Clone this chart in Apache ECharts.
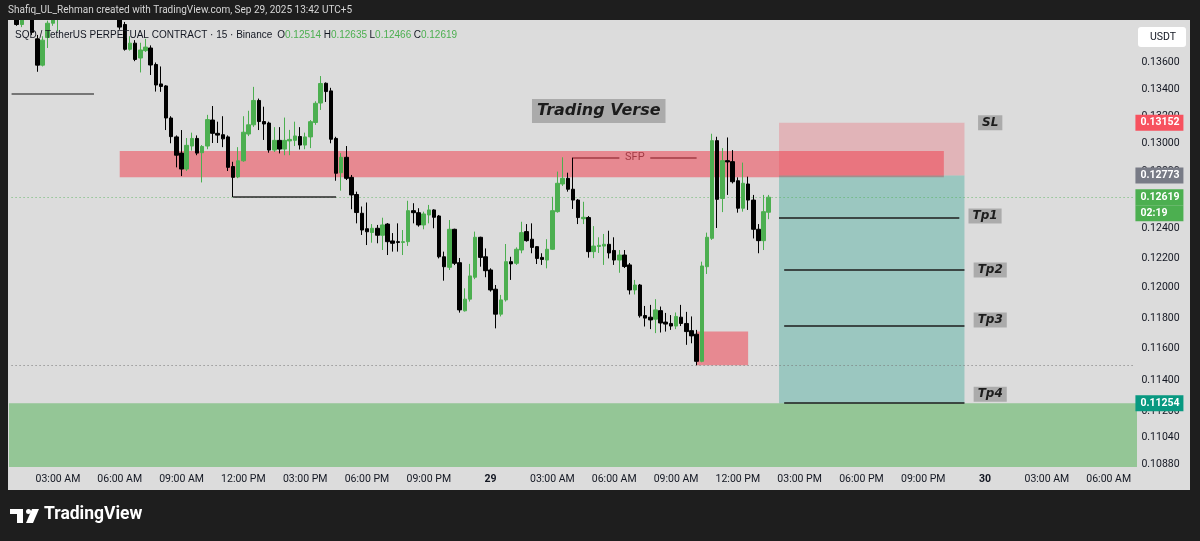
<!DOCTYPE html>
<html>
<head>
<meta charset="utf-8">
<title>SQD / TetherUS PERPETUAL CONTRACT · 15</title>
<script src="https://cdn.jsdelivr.net/npm/echarts@6/dist/echarts.min.js"></script>
<style>
  html, body { margin: 0; padding: 0; background: #1e1e1e; }
  #chart { width: 1200px; height: 541px; }
</style>
</head>
<body>
<div id="chart"></div>
<script>
// 15 min bars. category 0 = Sep 28 00:45, bar q = quarter hours after Sep 28 00:00
const firstBar = 3;
const barCount = 219;
const candleStart = 4; // first candle in the arrays below = Sep 28 01:00

// null = bar is above the visible price range
const open = [
  0.1398, 0.1389, null, 0.1400, 0.1378, 0.1358, 0.1379, 0.1390, 0.1396,
  null, null, null, null, null, null, null, null, null, null, null,
  0.1396, 0.1389, 0.1370, 0.13747, 0.13634, 0.1369, 0.1371, 0.13585, 0.13439, 0.13424,
  0.13187, 0.13049, 0.12932, 0.12818, 0.12983, 0.13038, 0.12935, 0.12983, 0.13172, 0.13075,
  0.13065, 0.13049, 0.12836, 0.12762, 0.12877, 0.1307, 0.13137, 0.13316, 0.13161, 0.1315,
  0.12954, 0.13024, 0.12961, 0.1302, 0.13024, 0.13052, 0.1299, 0.13049, 0.13154, 0.13297,
  0.13444, 0.13387, 0.13038, 0.12792, 0.12902, 0.12759, 0.12638, 0.12507, 0.124, 0.12374,
  0.12403, 0.12355, 0.12432, 0.12316, 0.12311, 0.12306, 0.12311, 0.12525, 0.12511, 0.12426,
  0.12495, 0.1253, 0.12488, 0.12208, 0.12137, 0.12396, 0.12168, 0.11847, 0.11924, 0.1207,
  0.12341, 0.12208, 0.12119, 0.1199, 0.11825, 0.11919, 0.12175, 0.12164, 0.12254, 0.1238,
  0.12328, 0.12277, 0.12204, 0.12186, 0.12259, 0.12518, 0.12712, 0.12752, 0.12675, 0.12599,
  0.12469, 0.12477, 0.12243, 0.12278, 0.12281, 0.12293, 0.12251, 0.12186, 0.1222, 0.12153,
  0.11985, 0.12018, 0.11816, 0.11805, 0.11792, 0.11848, 0.11773, 0.11764, 0.11747, 0.11805,
  0.11764, 0.11717, 0.11694, 0.11519, 0.12141, 0.12334, 0.13022, 0.1261, 0.12878, 0.12871,
  0.12735, 0.12542, 0.12712, 0.12599, 0.12396, 0.12318, 0.12514
];
const high = [
  0.1402, 0.1402, null, 0.1402, 0.1381, 0.1380, 0.1392, 0.1402, 0.1404,
  null, null, null, null, null, null, null, null, null, null, null,
  0.1399, 0.1391, 0.1380, 0.1377, 0.1375, 0.1378, 0.1373, 0.1360, 0.1357, 0.1343,
  0.1320, 0.1306, 0.13099, 0.13041, 0.1308, 0.1306, 0.1299, 0.1321, 0.13275, 0.1316,
  0.1320, 0.1306, 0.1287, 0.12975, 0.1320, 0.1324, 0.13417, 0.1333, 0.1327, 0.1316,
  0.1312, 0.1312, 0.1319, 0.1310, 0.1316, 0.1312, 0.1308, 0.13172, 0.1331, 0.13498,
  0.1345, 0.1341, 0.1305, 0.12932, 0.12983, 0.12776, 0.12658, 0.12554, 0.12582, 0.12432,
  0.12426, 0.12476, 0.12439, 0.1237, 0.12437, 0.12391, 0.12594, 0.12577, 0.12542, 0.12518,
  0.12565, 0.12535, 0.12495, 0.12243, 0.1246, 0.124, 0.122, 0.11996, 0.1216, 0.1238,
  0.12345, 0.12265, 0.1213, 0.12018, 0.11952, 0.12295, 0.12208, 0.12272, 0.12448, 0.12432,
  0.12437, 0.12281, 0.12232, 0.12328, 0.12622, 0.128, 0.12902, 0.12792, 0.1290, 0.12606,
  0.12587, 0.12488, 0.12418, 0.12341, 0.12364, 0.12386, 0.12341, 0.12254, 0.12254, 0.12166,
  0.12052, 0.12025, 0.11879, 0.11886, 0.11924, 0.11875, 0.11833, 0.11819, 0.11836, 0.11886,
  0.1184, 0.1181, 0.11722, 0.12175, 0.12373, 0.13072, 0.1305, 0.12968, 0.13045, 0.12954,
  0.12759, 0.12864, 0.12764, 0.12635, 0.12432, 0.12635, 0.12635
];
const low = [
  0.1388, 0.1387, null, 0.1381, 0.1353, 0.1357, 0.1371, 0.1388, 0.13837,
  null, null, null, null, null, null, null, null, null, null, null,
  0.1385, 0.1369, 0.1369, 0.1361, 0.13525, 0.1368, 0.13506, 0.13382, 0.1338, 0.13099,
  0.13003, 0.1283, 0.12768, 0.12804, 0.1295, 0.12917, 0.12723, 0.1296, 0.13005, 0.13005,
  0.12975, 0.12804, 0.1262, 0.12753, 0.1287, 0.13055, 0.13122, 0.13099, 0.13027, 0.12935,
  0.1294, 0.1293, 0.12917, 0.12917, 0.12983, 0.12958, 0.1296, 0.12968, 0.13137, 0.13246,
  0.13305, 0.13003, 0.12735, 0.12665, 0.1274, 0.12535, 0.12437, 0.12357, 0.12288, 0.12304,
  0.123, 0.12254, 0.1222, 0.12243, 0.12243, 0.1222, 0.12282, 0.12437, 0.12414, 0.12396,
  0.12437, 0.12403, 0.12197, 0.12047, 0.12119, 0.12152, 0.11835, 0.11842, 0.11908, 0.12057,
  0.12141, 0.1207, 0.11974, 0.11732, 0.1181, 0.11908, 0.12052, 0.12153, 0.12232, 0.12311,
  0.12232, 0.12159, 0.12153, 0.1213, 0.12254, 0.12511, 0.12698, 0.12658, 0.12537, 0.12432,
  0.12432, 0.12202, 0.12199, 0.12234, 0.12153, 0.12197, 0.12153, 0.121, 0.12132, 0.11955,
  0.11955, 0.11802, 0.11744, 0.11727, 0.11701, 0.11705, 0.11711, 0.11722, 0.11727, 0.11747,
  0.11625, 0.11635, 0.11494, 0.11513, 0.12092, 0.12323, 0.12405, 0.12515, 0.12635, 0.12716,
  0.12511, 0.12518, 0.1253, 0.12333, 0.12232, 0.12254, 0.12466
];
const close = [
  0.1389, 0.1398, null, 0.1383, 0.1358, 0.1377, 0.1390, 0.1398, 0.1401,
  null, null, null, null, null, null, null, null, null, null, null,
  0.1387, 0.1370, 0.13747, 0.13623, 0.13695, 0.13717, 0.13581, 0.13431, 0.1342, 0.13187,
  0.13051, 0.12917, 0.12818, 0.12988, 0.13038, 0.12932, 0.1298, 0.13175, 0.13075, 0.13062,
  0.13035, 0.1283, 0.12759, 0.12877, 0.13083, 0.13137, 0.13316, 0.13161, 0.13143, 0.12954,
  0.13024, 0.12961, 0.13024, 0.13031, 0.13056, 0.1299, 0.13049, 0.1316, 0.13295, 0.13442,
  0.13382, 0.13032, 0.12788, 0.12902, 0.12752, 0.12635, 0.12512, 0.12391, 0.12379, 0.12403,
  0.12355, 0.12426, 0.12311, 0.123, 0.12306, 0.12311, 0.12525, 0.12511, 0.12426, 0.12502,
  0.1253, 0.12479, 0.12208, 0.12141, 0.12396, 0.12164, 0.11853, 0.11924, 0.12079, 0.12341,
  0.12204, 0.12114, 0.11985, 0.11825, 0.11919, 0.12175, 0.1216, 0.12259, 0.12373, 0.12318,
  0.12272, 0.12197, 0.1219, 0.12259, 0.12525, 0.12717, 0.12752, 0.12675, 0.12599, 0.12477,
  0.12479, 0.12243, 0.12281, 0.12286, 0.12293, 0.12234, 0.12186, 0.1222, 0.12142, 0.11985,
  0.12018, 0.11814, 0.11799, 0.11787, 0.11853, 0.11767, 0.1176, 0.11747, 0.1181, 0.11764,
  0.11711, 0.11683, 0.11519, 0.12146, 0.12341, 0.13022, 0.12604, 0.12878, 0.12869, 0.12728,
  0.12542, 0.12717, 0.12599, 0.12396, 0.12318, 0.12518, 0.12619
];

const yMin = 0.10862;
const yMax = 0.13925;
const priceTicks = [0.136, 0.134, 0.132, 0.130, 0.128, 0.126, 0.124, 0.122, 0.120, 0.118, 0.116, 0.114, 0.112, 0.1104, 0.1088];

// drawings (bar numbers are quarter hours after Sep 28 00:00)
const zoneTop = 0.12947, zoneBottom = 0.12760;
const lowBoxTop = 0.11711, lowBoxBottom = 0.11494;
const entry = 0.12773, stopLoss = 0.13152, takeProfit = 0.11254;
const tpLevels = [0.12474, 0.12119, 0.11747, 0.11254];
const tpNames = ['Tp1', 'Tp2', 'Tp3', 'Tp4'];
const tpLabelPrices = [0.12488, 0.12119, 0.11787, 0.1131];
const lastPrice = 0.12619;
const sfpLevel = 0.1290;
const oldHigh = 0.13364;
const sweptLow = 0.1262;

const times = [];
for (let q = firstBar; q < firstBar + barCount; q++) {
  const day = 28 + Math.floor(q / 96);
  const mins = (q % 96) * 15;
  times.push(day + ' ' + String(Math.floor(mins / 60)).padStart(2, '0') + ':' + String(mins % 60).padStart(2, '0'));
}
const bar = q => q - firstBar;
const lastCat = barCount - 1;

const candles = [];
open.forEach((o, k) => {
  if (o == null) return;
  candles.push([bar(candleStart + k), o, close[k], low[k], high[k]]);
});

const font = 'Roboto, "Liberation Sans", sans-serif';

function timeLabel(v) {
  const hm = v.split(' ')[1];
  const h = +hm.slice(0, 2);
  if (h === 0) return '{b|' + v.split(' ')[0] + '}';
  const h12 = h % 12 || 12;
  return String(h12).padStart(2, '0') + ':00 ' + (h < 12 ? 'AM' : 'PM');
}

// full width horizontal line, the log axis wants coord pairs
function hline(price, style, label) {
  return [
    { coord: [0, price], lineStyle: style, label: label || { show: false } },
    { coord: [lastCat, price] }
  ];
}

function tag(price, text, bg) {
  return hline(price, { color: 'transparent' }, {
    show: true, position: 'end', distance: 1, formatter: text,
    backgroundColor: bg, color: '#ffffff', fontSize: 10.5, fontWeight: 'bold',
    fontFamily: font, padding: [2, 3, 1, 5], width: 40, lineHeight: 13, overflow: 'none'
  });
}

function boxLabel(q, price, text, size) {
  return {
    coord: [bar(q), price], symbolSize: 0,
    label: {
      show: true, position: 'inside', formatter: text,
      backgroundColor: '#ababab', color: '#1c1c1c', fontSize: size,
      fontStyle: 'italic', fontWeight: 'bold', fontFamily: '"DejaVu Sans", sans-serif',
      padding: size > 14 ? [4, 5, 4, 5] : [2, 4, 1, 4]
    }
  };
}

const chart = echarts.init(document.getElementById('chart'));
chart.setOption({
  animation: false,
  backgroundColor: '#1e1e1e',
  textStyle: { fontFamily: font },
  grid: { left: 9, top: 20, right: 63, bottom: 74 },
  graphic: [
    { type: 'rect', z: -10, shape: { x: 8, y: 20, width: 1182, height: 470 }, style: { fill: '#dcdcdc' } },
    // header strip sits above the pane, so bars that run off the top stay hidden
    { type: 'rect', z: 50, shape: { x: 0, y: 0, width: 1200, height: 20 }, style: { fill: '#1e1e1e' } },
    { type: 'text', z: 51, left: 8, top: 5, style: { text: 'Shafiq_UL_Rehman created with TradingView.com, Sep 29, 2025 13:42 UTC+5', fill: '#d6d6d6', font: '10px ' + font } },
    {
      type: 'text', left: 15, top: 30, z: 20,
      style: {
        text: '{n|SQD / TetherUS PERPETUAL CONTRACT · 15 · Binance}  {n|O}{v|0.12514} {n|H}{v|0.12635} {n|L}{v|0.12466} {n|C}{v|0.12619}',
        font: '10px ' + font,
        rich: { n: { fill: '#131722', fontSize: 10 }, v: { fill: '#4caf50', fontSize: 10 } }
      }
    },
    { type: 'rect', z: 20, shape: { x: 1138, y: 27, width: 48, height: 20, r: 3 }, style: { fill: '#ffffff' } },
    { type: 'text', z: 21, left: 1150, top: 32, style: { text: 'USDT', fill: '#131722', font: '10.5px ' + font } },
    // TradingView logo
    { type: 'rect', shape: { x: 10, y: 509, width: 13, height: 5 }, style: { fill: '#ffffff' } },
    { type: 'rect', shape: { x: 17, y: 509, width: 6, height: 14 }, style: { fill: '#ffffff' } },
    { type: 'circle', shape: { cx: 28.5, cy: 511.5, r: 2.5 }, style: { fill: '#ffffff' } },
    { type: 'polygon', shape: { points: [[32, 509], [39, 509], [33, 523], [26, 523]] }, style: { fill: '#ffffff' } },
    { type: 'text', left: 44, top: 506, style: { text: 'TradingView', fill: '#ffffff', font: 'bold 17.5px ' + font } }
  ],
  xAxis: {
    type: 'category',
    data: times,
    boundaryGap: true,
    axisLine: { show: false },
    axisTick: { show: false },
    splitLine: { show: false },
    axisLabel: {
      color: '#131722', fontSize: 10.5, margin: 7,
      interval: (i, v) => v.slice(-2) === '00' && (+v.slice(-5, -3)) % 3 === 0,
      formatter: timeLabel,
      rich: { b: { fontWeight: 'bold', fontSize: 10.5, color: '#131722' } }
    }
  },
  yAxis: {
    type: 'log', logBase: 10, min: yMin, max: yMax, position: 'right',
    axisLine: { show: false }, axisTick: { show: false },
    axisLabel: { show: false }, splitLine: { show: false }
  },
  series: [
    {
      // zones and position box, under the candles
      type: 'line', data: [], z: 1, silent: true,
      markArea: {
        silent: true,
        data: [
          [{ xAxis: bar(24), yAxis: zoneTop, itemStyle: { color: 'rgba(242,54,69,0.5)' } }, { xAxis: bar(184), yAxis: zoneBottom }],
          [{ xAxis: bar(136), yAxis: lowBoxTop, itemStyle: { color: 'rgba(242,54,69,0.5)' } }, { xAxis: bar(146), yAxis: lowBoxBottom }],
          [{ xAxis: bar(152), yAxis: stopLoss, itemStyle: { color: 'rgba(242,54,69,0.24)' } }, { xAxis: bar(188), yAxis: entry }],
          [{ xAxis: bar(152), yAxis: entry, itemStyle: { color: 'rgba(8,153,129,0.3)' } }, { xAxis: bar(188), yAxis: takeProfit }],
          [{ yAxis: takeProfit, itemStyle: { color: 'rgba(76,175,80,0.5)' } }, { yAxis: yMin }]
        ]
      },
      markLine: {
        silent: true, symbol: ['none', 'none'],
        label: { show: false },
        data: [
          hline(lastPrice, { color: '#4caf50', type: [1, 3], width: 1, opacity: 0.8 }),
          hline(lowBoxBottom, { color: '#777777', type: [1, 3], width: 1 })
        ]
      }
    },
    {
      type: 'candlestick', z: 5, clip: true, barWidth: 4,
      dimensions: ['bar', 'open', 'close', 'lowest', 'highest'],
      encode: { x: 0, y: [1, 2, 3, 4] },
      data: candles,
      itemStyle: { color: '#4caf50', color0: '#000000', borderColor: '#4caf50', borderColor0: '#000000', borderWidth: 1 }
    },
    {
      // drawings on top
      type: 'line', data: [], z: 8, silent: true,
      markLine: {
        silent: true, symbol: ['none', 'none'],
        label: { show: false },
        data: [
          [{ coord: [0, oldHigh], lineStyle: { color: '#555555', width: 1.5, type: 'solid' } }, { coord: [bar(19), oldHigh] }],
          [{ coord: [bar(46), sweptLow], lineStyle: { color: '#2a2a2a', width: 1.5, type: 'solid' } }, { coord: [bar(66), sweptLow] }],
          [{ coord: [bar(112), sfpLevel], lineStyle: { color: '#a23b45', width: 1.5, type: 'solid' } }, { coord: [bar(121), sfpLevel] }],
          [{ coord: [bar(127), sfpLevel], lineStyle: { color: '#a23b45', width: 1.5, type: 'solid' } }, { coord: [bar(136), sfpLevel] }],
          [{ coord: [bar(152), tpLevels[0]], lineStyle: { color: '#1c1c1c', width: 1.5, type: 'solid' } }, { coord: [bar(187), tpLevels[0]] }],
          [{ coord: [bar(153), tpLevels[1]], lineStyle: { color: '#1c1c1c', width: 1.5, type: 'solid' } }, { coord: [bar(188), tpLevels[1]] }],
          [{ coord: [bar(153), tpLevels[2]], lineStyle: { color: '#1c1c1c', width: 1.5, type: 'solid' } }, { coord: [bar(188), tpLevels[2]] }],
          [{ coord: [bar(153), tpLevels[3]], lineStyle: { color: '#1c1c1c', width: 1.5, type: 'solid' } }, { coord: [bar(188), tpLevels[3]] }]
        ]
      },
      markPoint: {
        silent: true, symbol: 'rect', symbolSize: 0,
        data: [
          boxLabel(117, 0.13239, 'Trading Verse', 16),
          boxLabel(193, stopLoss, 'SL', 12),
          ...tpNames.map((t, k) => boxLabel(k === 0 ? 192 : 193, tpLabelPrices[k], t, 12)),
          {
            coord: [bar(124), sfpLevel], symbolSize: 0,
            label: { show: true, position: 'inside', formatter: 'SFP', color: '#a23b45', fontSize: 11, fontFamily: font }
          }
        ]
      }
    },
    {
      // price scale labels
      type: 'line', data: [], z: 9, silent: true,
      markLine: {
        silent: true, symbol: ['none', 'none'],
        data: priceTicks.map(p => hline(p, { color: 'transparent' }, {
          show: true, position: 'end', distance: 7, formatter: p.toFixed(5),
          color: '#131722', fontSize: 10.5, fontFamily: font
        }))
      }
    },
    {
      // price tags
      type: 'line', data: [], z: 10, silent: true,
      markLine: {
        silent: true, symbol: ['none', 'none'],
        data: [
          tag(stopLoss, '0.13152', '#f7525f'),
          tag(entry, '0.12773', '#787b86'),
          tag(lastPrice, '0.12619', '#4caf50'),
          tag(0.12507, '02:19', '#4caf50'),
          tag(takeProfit, '0.11254', '#089981')
        ]
      }
    }
  ]
});
</script>
</body>
</html>
